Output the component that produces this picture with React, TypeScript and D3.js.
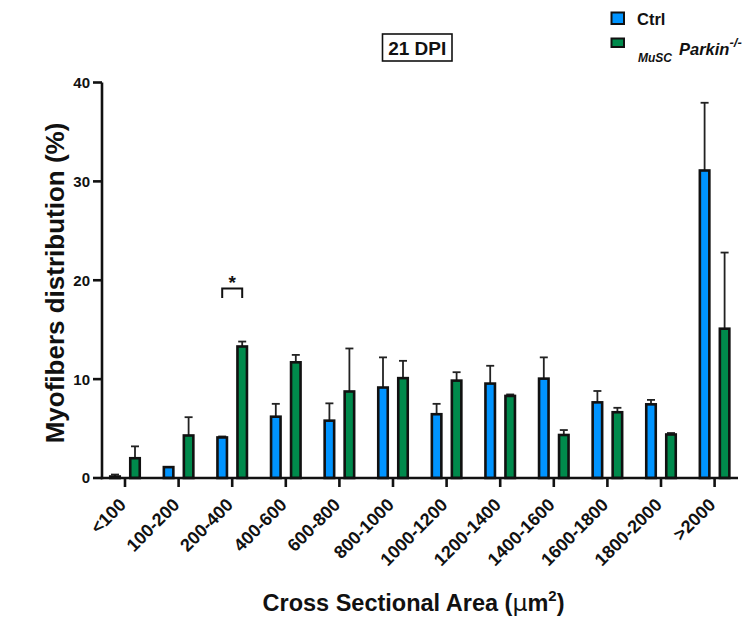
import React from "react";
import * as d3 from "d3";

const categories = ["<100", "100-200", "200-400", "400-600", "600-800", "800-1000", "1000-1200", "1200-1400", "1400-1600", "1600-1800", "1800-2000", ">2000"];
const ctrlMean = [0.15, 1.1, 4.1, 6.2, 5.8, 9.15, 6.45, 9.55, 10.05, 7.65, 7.45, 31.1];
const ctrlErr = [0.35, 1.1, 4.2, 7.5, 7.55, 12.2, 7.5, 11.35, 12.2, 8.8, 7.9, 37.95];
const parkMean = [2.0, 4.3, 13.3, 11.7, 8.75, 10.1, 9.85, 8.3, 4.35, 6.65, 4.4, 15.1];
const parkErr = [3.2, 6.15, 13.8, 12.45, 13.1, 11.85, 10.7, 8.45, 4.85, 7.1, 4.55, 22.8];
const yTicks = [0, 10, 20, 30, 40];

const BLUE = "#0094ff";
const GREEN = "#008a4c";
const FONT = "Liberation Sans, Arial, sans-serif";

export default function App() {
  const x = d3.scalePoint<string>().domain(categories).range([125, 714.6]);
  const y = d3.scaleLinear().domain([0, 40]).range([478, 82.5]);
  const off = 10;
  const bw = 9.5;
  const cap = 4;

  const series = [
    { mean: ctrlMean, err: ctrlErr, color: BLUE, dx: -off },
    { mean: parkMean, err: parkErr, color: GREEN, dx: off },
  ];

  const cx2 = (x("200-400") as number);

  return (
    <svg width={752} height={624} style={{ position: "absolute", left: 0, top: 0, display: "block" }} fontFamily={FONT}>
      <rect x={0} y={0} width={752} height={624} fill="#fff" />
      {/* bars */}
      {series.map((s, si) =>
        categories.map((c, i) => {
          const cx = (x(c) as number) + s.dx;
          const top = y(s.mean[i]);
          const et = y(s.err[i]);
          return (
            <g key={`${si}-${i}`}>
              <line x1={cx} x2={cx} y1={top} y2={et} stroke="#222" strokeWidth={1.8} />
              <line x1={cx - cap} x2={cx + cap} y1={et} y2={et} stroke="#222" strokeWidth={1.8} />
              <rect x={cx - bw / 2} y={top} width={bw} height={y(0) - top} fill={s.color} stroke="#111" strokeWidth={2.6} />
            </g>
          );
        })
      )}
      {/* axes */}
      <line x1={102} x2={102} y1={y(40)} y2={y(0) + 1.2} stroke="#111" strokeWidth={2.6} />
      <line x1={100.7} x2={738} y1={y(0)} y2={y(0)} stroke="#111" strokeWidth={2.6} />
      {yTicks.map((t) => (
        <g key={t}>
          <line x1={93} x2={102} y1={y(t)} y2={y(t)} stroke="#111" strokeWidth={2.6} />
          <text x={90} y={y(t)} dy="0.36em" textAnchor="end" fontSize={15} fontWeight="bold" fill="#111">
            {t}
          </text>
        </g>
      ))}
      {categories.map((c) => {
        const cx = x(c) as number;
        return (
          <g key={c}>
            <line x1={cx} x2={cx} y1={y(0)} y2={y(0) + 9} stroke="#111" strokeWidth={2.6} />
            <text
              transform={`translate(${cx + 2},${y(0) + 28}) rotate(-45)`}
              textAnchor="end"
              fontSize={18}
              fontWeight="bold"
              fill="#111"
            >
              {c}
            </text>
          </g>
        );
      })}
      {/* significance */}
      <path
        d={`M${cx2 - off},${298} V${288.5} H${cx2 + off} V${298}`}
        fill="none"
        stroke="#111"
        strokeWidth={2}
      />
      <text x={cx2} y={289} textAnchor="middle" fontSize={19} fontWeight="bold" fill="#111">
        *
      </text>
      {/* title */}
      <rect x={382.5} y={34} width={69.5} height={27} fill="none" stroke="#111" strokeWidth={1.6} />
      <text x={417.2} y={54.5} textAnchor="middle" fontSize={19} fontWeight="bold" fill="#111">
        21 DPI
      </text>
      {/* axis titles */}
      <text transform="translate(64,283) rotate(-90)" textAnchor="middle" fontSize={26} fontWeight="bold" fill="#111">
        Myofibers distribution (%)
      </text>
      <text x={413.5} y={610.5} textAnchor="middle" fontSize={23.5} fontWeight="bold" fill="#111">
        Cross Sectional Area (<tspan fontWeight="normal" fontFamily="DejaVu Sans, sans-serif">μ</tspan>m
        <tspan fontSize={15} dy={-10}>2</tspan>
        <tspan dy={10}>)</tspan>
      </text>
      {/* legend */}
      <rect x={611.5} y={12.5} width={12.5} height={11.5} fill={BLUE} stroke="#111" strokeWidth={2} />
      <text x={637} y={25} fontSize={16.5} fontWeight="bold" fill="#111">
        Ctrl
      </text>
      <rect x={611.5} y={38.5} width={12.5} height={8.5} fill={GREEN} stroke="#111" strokeWidth={2} />
      <text x={638} y={61.5} fontSize={12} fontWeight="bold" fontStyle="italic" fill="#111">
        MuSC
      </text>
      <text x={679} y={55} fontSize={16.5} fontWeight="bold" fontStyle="italic" fill="#111">
        Parkin
        <tspan fontSize={13} dy={-8}>-/-</tspan>
      </text>
    </svg>
  );
}
